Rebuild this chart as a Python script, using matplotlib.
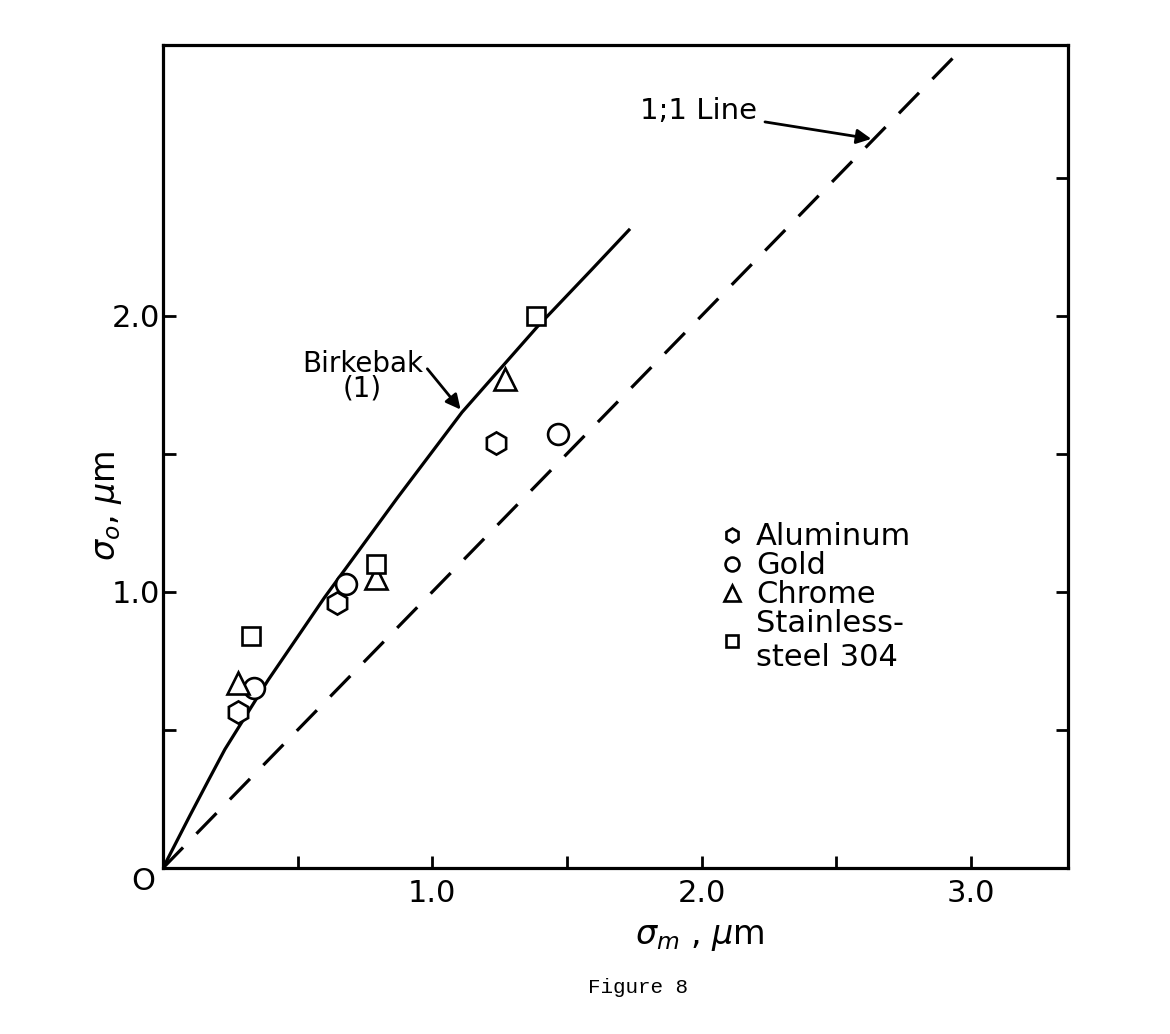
import numpy as np
import matplotlib
matplotlib.use('Agg')
import matplotlib.pyplot as plt
from matplotlib.lines import Line2D
from matplotlib.ticker import FixedLocator, FuncFormatter

plt.rcParams['font.family'] = ['DejaVu Sans']
plt.rcParams['mathtext.fontset'] = 'dejavusans'

# measured sigma_m (x) and optical sigma_o (y), um
al_x = [0.28, 0.645, 1.236]
al_y = [0.565, 0.96, 1.54]
gold_x = [0.338, 0.68, 1.468]
gold_y = [0.652, 1.03, 1.57]
chrome_x = [0.28, 0.79, 1.27]
chrome_y = [0.67, 1.05, 1.77]
ss_x = [0.327, 0.79, 1.386]
ss_y = [0.84, 1.10, 2.0]

# Birkebak (1) curve
birk_x = [0.0, 0.10, 0.17, 0.23, 0.39, 0.60, 0.87, 1.11, 1.39, 1.59, 1.73]
birk_y = [0.0, 0.19, 0.32, 0.43, 0.68, 0.98, 1.34, 1.65, 1.96, 2.165, 2.31]

one_x = [0.0, 3.2]
one_y = [0.0, 3.2]

xticks = [0.5, 1.0, 1.5, 2.0, 2.5, 3.0]
yticks = [0.5, 1.0, 1.5, 2.0]
rticks = [0.5, 1.0, 1.5, 2.0, 2.5]

fig = plt.figure(figsize=(11.7, 10.34), dpi=100)
ax = fig.add_axes([0.1393, 0.1605, 0.7735, 0.796])

ax.plot(one_x, one_y, color='black', lw=2.3, dashes=(9, 6), zorder=2)
ax.plot(birk_x, birk_y, color='black', lw=2.3, zorder=2)

mk = dict(linestyle='none', mfc='white', mec='black', mew=1.9, zorder=3)
ax.plot(al_x, al_y, marker='h', ms=16, **mk)
ax.plot(gold_x, gold_y, marker='o', ms=15, **mk)
ax.plot(chrome_x, chrome_y, marker='^', ms=16, **mk)
ax.plot(ss_x, ss_y, marker='s', ms=13, **mk)

ax.set_xlim(0, 3.36)
ax.set_ylim(0, 2.98)

for s in ax.spines.values():
    s.set_linewidth(2.3)

ax.xaxis.set_major_locator(FixedLocator(xticks))
ax.yaxis.set_major_locator(FixedLocator(yticks))
fmt = FuncFormatter(lambda v, p: '%.1f' % v if abs(v - round(v)) < 1e-6 else '')
ax.xaxis.set_major_formatter(fmt)
ax.yaxis.set_major_formatter(fmt)
ax.tick_params(direction='in', length=9, width=2, labelsize=22, pad=8)
ax.tick_params(axis='y', pad=2)

# ticks on the right side
ax2 = ax.twinx()
ax2.set_ylim(ax.get_ylim())
ax2.yaxis.set_major_locator(FixedLocator(rticks))
ax2.tick_params(direction='in', length=9, width=2, labelright=False)
for s in ax2.spines.values():
    s.set_visible(False)

ax.text(-0.075, -0.05, 'O', fontsize=22, ha='center', va='center', clip_on=False)

ax.set_xlabel(r'$\sigma_m$ , $\mu$m', fontsize=24)
ax.xaxis.set_label_coords(0.593, -0.063)
ax.set_ylabel(r'$\sigma_o$, $\mu$m', fontsize=24)
ax.yaxis.set_label_coords(-0.043, 0.44)

ax.annotate('1;1 Line', xy=(2.63, 2.64), xytext=(1.77, 2.74), fontsize=21,
            va='center', ha='left',
            arrowprops=dict(arrowstyle='-|>', color='black', lw=2, mutation_scale=22,
                            shrinkA=4, shrinkB=0))
ax.annotate('Birkebak\n(1)', xy=(1.105, 1.66), xytext=(0.74, 1.78), fontsize=20,
            va='center', ha='center', multialignment='center', linespacing=0.85,
            arrowprops=dict(arrowstyle='-|>', color='black', lw=2, mutation_scale=22,
                            shrinkA=2, shrinkB=0, relpos=(1.0, 0.75)))

handles = [
    Line2D([], [], marker='h', ms=10, **mk),
    Line2D([], [], marker='o', ms=10, **mk),
    Line2D([], [], marker='^', ms=11, **mk),
    Line2D([], [], marker='s', ms=9, **mk),
]
labels = ['Aluminum', 'Gold', 'Chrome', 'Stainless-\nsteel 304']
ax.legend(handles, labels, loc='upper left', bbox_to_anchor=(0.615, 0.42), frameon=False,
          fontsize=22, handlelength=0.8, handletextpad=0.4, labelspacing=0.0,
          borderaxespad=0, borderpad=0)

fig.text(0.545, 0.045, 'Figure 8', fontsize=15, family='Liberation Mono',
         ha='center', va='center')

fig.savefig('out.png', dpi=100)
